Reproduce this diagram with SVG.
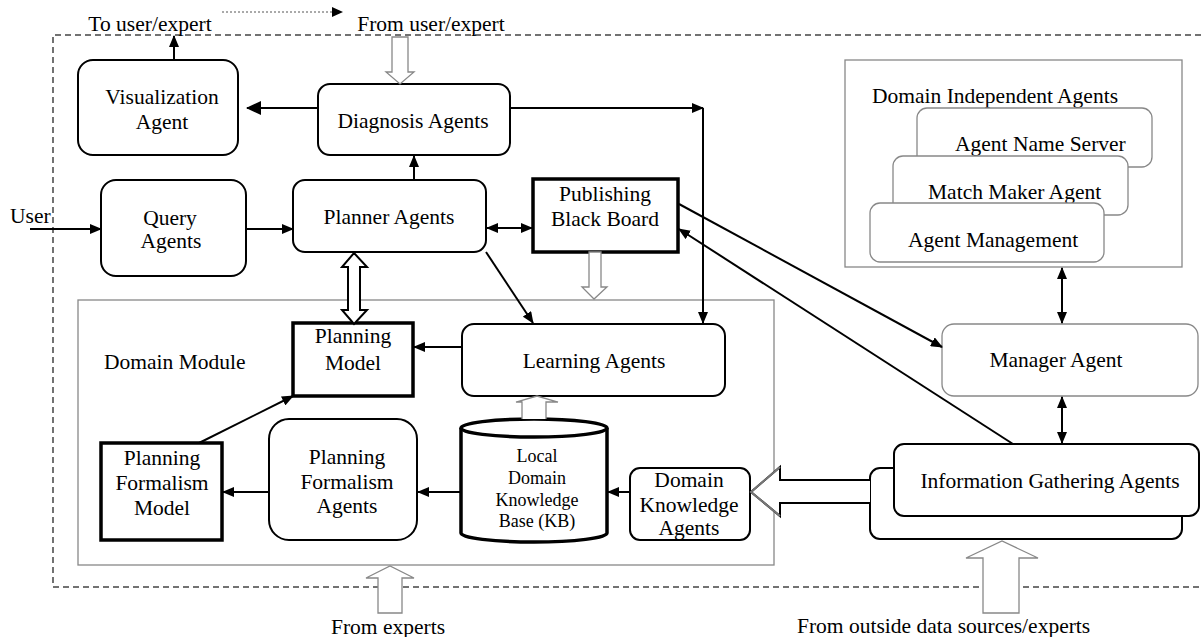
<svg xmlns="http://www.w3.org/2000/svg" width="1201" height="637" viewBox="0 0 1201 637">
<style>
text{font-family:"Liberation Serif","Times New Roman",serif;font-size:21.5px;fill:#000}
.c{text-anchor:middle}
.small{font-size:18px}
.box{fill:#fff;stroke:#000;stroke-width:2}
.thick{fill:#fff;stroke:#000;stroke-width:3.5}
.gbox{fill:#fff;stroke:#888;stroke-width:1.3}
.ln{stroke:#000;stroke-width:2;fill:none}
.hol{fill:#fff;stroke:#888;stroke-width:1.3}
</style>
<defs>
<marker id="ah" viewBox="0 0 12 10" refX="11" refY="5" markerWidth="12" markerHeight="10" markerUnits="userSpaceOnUse" orient="auto-start-reverse"><path d="M0,0 L12,5 L0,10 z" fill="#000"/></marker>
<marker id="ahb" viewBox="0 0 15 14" refX="14" refY="7" markerWidth="15" markerHeight="14" markerUnits="userSpaceOnUse" orient="auto-start-reverse"><path d="M0,0 L15,7 L0,14 z" fill="#000"/></marker>
</defs>

<!-- outer dashed boundary -->
<path d="M1201,35 L53,35 L53,587 L1201,587" fill="none" stroke="#444" stroke-width="1.5" stroke-dasharray="6,4"/>

<!-- top labels -->
<text x="150" y="31" class="c">To user/expert</text>
<text x="431" y="31" class="c">From user/expert</text>
<line x1="222" y1="12" x2="333" y2="12" stroke="#555" stroke-width="1" stroke-dasharray="2,2"/>
<path d="M332,7 L343,12 L332,17 z" fill="#000"/>

<!-- Domain Module container -->
<g id="domain-module">
<rect x="78" y="300" width="696" height="265" fill="none" stroke="#888" stroke-width="1.3"/>
<text x="104" y="369">Domain Module</text>
</g>

<!-- Domain Independent Agents container -->
<g id="domain-independent-agents">
<rect x="845" y="60" width="337" height="207" fill="#fff" stroke="#888" stroke-width="1.3"/>
<text x="872" y="103">Domain Independent  Agents</text>
</g>
<g id="agent-name-server">
<rect x="917" y="108" width="235" height="59" rx="10" class="gbox"/>
<text x="955" y="151">Agent Name Server</text>
</g>
<g id="match-maker-agent">
<rect x="893" y="156" width="235" height="59" rx="10" class="gbox"/>
<text x="928" y="199">Match Maker Agent</text>
</g>
<g id="agent-management">
<rect x="870" y="203" width="234" height="59" rx="10" class="gbox"/>
<text x="908" y="247">Agent Management</text>
</g>

<g id="visualization-agent">
<rect x="78" y="60" width="160" height="95" rx="15" class="box"/>
<text x="162" y="104" class="c">Visualization</text>
<text x="162" y="129" class="c">Agent</text>
</g>

<g id="diagnosis-agents">
<rect x="318" y="84" width="192" height="71" rx="12" class="box"/>
<text x="413" y="128" class="c">Diagnosis Agents</text>
</g>

<g id="query-agents">
<rect x="101" y="180" width="145" height="96" rx="15" class="box"/>
<text x="170" y="225" class="c">Query</text>
<text x="171" y="248" class="c">Agents</text>
</g>

<g id="planner-agents">
<rect x="293" y="180" width="193" height="72" rx="12" class="box"/>
<text x="389" y="224" class="c">Planner Agents</text>
</g>

<g id="publishing-black-board">
<rect x="533" y="179" width="145" height="73" class="thick"/>
<text x="605" y="201" class="c">Publishing</text>
<text x="605" y="226" class="c">Black Board</text>
</g>

<g id="planning-model">
<rect x="293" y="323" width="120" height="73" class="thick"/>
<text x="353" y="343" class="c">Planning</text>
<text x="353" y="370" class="c">Model</text>
</g>

<g id="learning-agents">
<rect x="462" y="324" width="263" height="72" rx="12" class="box"/>
<text x="594" y="368" class="c">Learning Agents</text>
</g>

<g id="planning-formalism-model">
<rect x="101" y="443" width="121" height="97" class="thick"/>
<text x="162" y="465" class="c">Planning</text>
<text x="162" y="490" class="c">Formalism</text>
<text x="162" y="515" class="c">Model</text>
</g>

<g id="planning-formalism-agents">
<rect x="269" y="419" width="148" height="121" rx="20" class="box"/>
<text x="347" y="464" class="c">Planning</text>
<text x="347" y="489" class="c">Formalism</text>
<text x="347" y="513" class="c">Agents</text>
</g>

<g id="local-domain-kb">
<path d="M461,428 L461,533 A73,9 0 0 0 607,533 L607,428" fill="#fff" stroke="#000" stroke-width="3.5"/>
<ellipse cx="534" cy="428" rx="73" ry="9" fill="#fff" stroke="#000" stroke-width="3.5"/>
<text x="537" y="462" class="c small">Local</text>
<text x="537" y="484" class="c small">Domain</text>
<text x="537" y="506" class="c small">Knowledge</text>
<text x="537" y="527" class="c small">Base (KB)</text>
</g>

<g id="domain-knowledge-agents">
<rect x="630" y="468" width="120" height="72" rx="10" class="box"/>
<text x="689" y="487" class="c">Domain</text>
<text x="689" y="512" class="c">Knowledge</text>
<text x="689" y="535" class="c">Agents</text>
</g>

<g id="manager-agent">
<rect x="942" y="324" width="256" height="72" rx="12" class="gbox"/>
<text x="1056" y="367" class="c">Manager Agent</text>
</g>

<g id="information-gathering-agents">
<rect x="870" y="468" width="312" height="71" rx="10" class="box"/>
<rect x="894" y="444" width="305" height="72" rx="10" class="box"/>
<text x="1050" y="488" class="c">Information Gathering Agents</text>
</g>

<!-- connectors -->
<g id="connectors">
<line x1="174" y1="60" x2="174" y2="36" class="ln" marker-end="url(#ah)"/>
<line x1="317" y1="108" x2="247" y2="108" class="ln" marker-end="url(#ahb)"/>
<line x1="510" y1="108" x2="703" y2="108" class="ln" marker-end="url(#ah)"/>
<line x1="703" y1="108" x2="703" y2="323" class="ln" marker-end="url(#ah)"/>
<line x1="414" y1="180" x2="414" y2="156" class="ln" marker-end="url(#ah)"/>
<line x1="30" y1="229" x2="101" y2="229" class="ln" marker-end="url(#ah)"/>
<text x="10" y="223">User</text>
<line x1="247" y1="229" x2="293" y2="229" class="ln" marker-end="url(#ah)"/>
<line x1="487" y1="228" x2="532" y2="228" class="ln" marker-start="url(#ah)" marker-end="url(#ah)"/>
<line x1="486" y1="252" x2="533" y2="323" class="ln" marker-end="url(#ah)"/>
<line x1="462" y1="347" x2="414" y2="347" class="ln" marker-end="url(#ah)"/>
<line x1="630" y1="492" x2="608" y2="492" class="ln" marker-end="url(#ah)"/>
<line x1="461" y1="492" x2="418" y2="492" class="ln" marker-end="url(#ah)"/>
<line x1="269" y1="492" x2="223" y2="492" class="ln" marker-end="url(#ah)"/>
<line x1="199" y1="443" x2="293" y2="396" class="ln" marker-end="url(#ah)"/>
<line x1="679" y1="204" x2="942" y2="347" class="ln" marker-end="url(#ah)"/>
<line x1="1013" y1="444" x2="679" y2="229" class="ln" marker-end="url(#ah)"/>
<line x1="1062" y1="268" x2="1062" y2="323" class="ln" marker-start="url(#ah)" marker-end="url(#ah)"/>
<line x1="1062" y1="397" x2="1062" y2="443" class="ln" marker-start="url(#ah)" marker-end="url(#ah)"/>
<!-- hollow arrows -->
<path d="M392,37 L408,37 L408,72 L414,72 L400,84 L386,72 L392,72 z" class="hol"/>
<path d="M589,252 L601,252 L601,287 L607,287 L594,299 L582,287 L589,287 z" class="hol"/>
<path d="M522,419 L522,402 L516,402 L537,396 L558,402 L546,402 L546,419" class="hol"/>
<path d="M354,253 L367,267 L360,267 L360,310 L367,310 L354,324 L342,310 L348,310 L348,267 L342,267 z" fill="#fff" stroke="#000" stroke-width="2"/>
<path d="M378,613 L378,578 L366,578 L390,566 L414,578 L402,578 L402,613 z" class="hol"/>
<path d="M983,613 L983,558 L966,558 L1002,541 L1038,558 L1019,558 L1019,613 z" class="hol"/>
<path d="M870,480 L780,480 L780,467 L751,492 L780,516 L780,503 L870,503" fill="#fff" stroke="#000" stroke-width="2"/>
<path d="M780,467 L751,492 L780,516" fill="none" stroke="#777" stroke-width="2"/>
</g>

<text x="388" y="634" class="c">From experts</text>
<text x="797" y="633">From outside data sources/experts</text>
</svg>
